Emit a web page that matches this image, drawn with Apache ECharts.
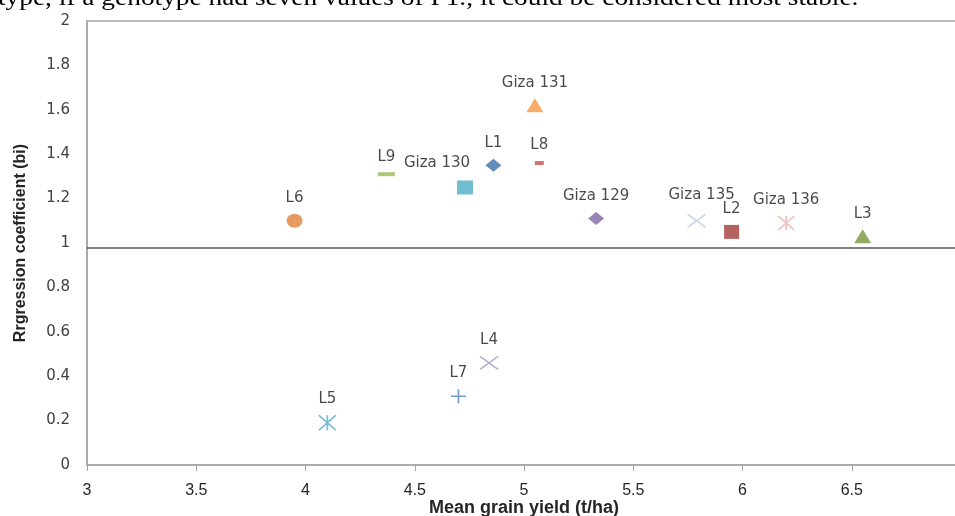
<!DOCTYPE html>
<html>
<head>
<meta charset="utf-8">
<script src="https://cdn.jsdelivr.net/npm/echarts@6/dist/echarts.min.js"></script>
<style>
html,body{margin:0;padding:0;background:#fff;overflow:hidden;}
#c{width:955px;height:516px;}
</style>
</head>
<body>
<div id="c"></div>
<script>
// Data
var genotypes = ['L6','L9','Giza 130','L1','L8','Giza 131','Giza 129','Giza 135','L2','Giza 136','L3','L4','L7','L5'];
var meanYield = [3.95, 4.37, 4.73, 4.86, 5.07, 5.05, 5.33, 5.79, 5.95, 6.20, 6.55, 4.84, 4.70, 4.10];
var regCoef   = [1.10, 1.31, 1.25, 1.35, 1.36, 1.62, 1.11, 1.10, 1.05, 1.09, 1.03, 0.46, 0.31, 0.19];
var meanLineY = 0.98;
var xTicks = [3, 3.5, 4, 4.5, 5, 5.5, 6, 6.5, 7];
var yTicks = [0, 0.2, 0.4, 0.6, 0.8, 1, 1.2, 1.4, 1.6, 1.8, 2];

// Styles (not data)
var X_PATH = 'path://M0,0L10,10M10,0L0,10';
var PLUS_PATH = 'path://M5,0L5,10M0,5L10,5';
var AST_PATH = 'path://M0,0L10,10M10,0L0,10M5,0L5,10';
var styles = {
  'L6':       {symbol:'circle', size:[16,14], color:'#E07F3A'},
  'L9':       {symbol:'rect', size:[17,4], color:'#9BBB59'},
  'Giza 130': {symbol:'rect', size:[16,14], color:'#4BACC6', offset:[-28,-2]},
  'L1':       {symbol:'diamond', size:[16,13], color:'#3F6FAA'},
  'L8':       {symbol:'rect', size:[9,4], color:'#C0504D'},
  'Giza 131': {symbol:'triangle', size:[17,14], color:'#F79646'},
  'Giza 129': {symbol:'diamond', size:[16,13], color:'#8064A2'},
  'Giza 135': {symbol:X_PATH, size:[18,13], color:'#B9CDE5', stroke:true, offset:[5,-3]},
  'L2':       {symbol:'rect', size:[15,14], color:'#A23B38'},
  'Giza 136': {symbol:AST_PATH, size:[16,14], color:'#E6B0AE', stroke:true},
  'L3':       {symbol:'triangle', size:[17,14], color:'#77963C'},
  'L4':       {symbol:X_PATH, size:[18,13], color:'#9C90C0', stroke:true},
  'L7':       {symbol:PLUS_PATH, size:[15,14], color:'#4F81BD', stroke:true},
  'L5':       {symbol:AST_PATH, size:[17,15], color:'#4BACC6', stroke:true}
};

var series = genotypes.map(function(name, i){
  var s = styles[name];
  var item = s.stroke ? {color:'rgba(0,0,0,0)', borderColor:s.color, borderWidth:1.6}
                      : {color:s.color};
  return {
    type:'scatter',
    name:name,
    data:[[meanYield[i], regCoef[i]]],
    symbol:s.symbol,
    symbolSize:s.size,
    itemStyle:item,
    label:{
      show:true, position:'top', distance:8,
      offset:s.offset || [0,0],
      formatter:name,
      fontFamily:'DejaVu Sans', fontSize:15, color:'#1a1a1a'
    },
    emphasis:{disabled:true},
    z:3
  };
});

series.push({
  type:'line', data:[], silent:true,
  markLine:{
    silent:true, symbol:['none','none'], label:{show:false},
    lineStyle:{color:'#555555', width:1.6, type:'solid'},
    data:[{yAxis:meanLineY}]
  }
});

var chart = echarts.init(document.getElementById('c'), null, {renderer:'canvas'});
chart.setOption({
  animation:false,
  backgroundColor:'#fff',
  grid:{left:87, width:874, top:21, height:444, show:true, borderColor:'#a6a6a6', borderWidth:1.5,
        containLabel:false, outerBoundsMode:'none'},
  graphic:[{
    type:'text', left:-2, top:-13, silent:true, scaleX:1.19,
    style:{text:'type, if a genotype had seven values of P1., it could be considered most stable.',
           font:'23px "Liberation Serif"', fill:'#000'}
  }],
  xAxis:{
    type:'value', min:xTicks[0], max:xTicks[xTicks.length-1], interval:0.5,
    splitLine:{show:false},
    axisLine:{show:true, onZero:false, lineStyle:{color:'#a6a6a6', width:1.5}},
    axisTick:{show:true, length:6, lineStyle:{color:'#a6a6a6'}},
    axisLabel:{margin:18, fontFamily:'Liberation Sans', fontSize:16, color:'#262626', showMaxLabel:true, hideOverlap:false},
    name:'Mean grain yield (t/ha)', nameLocation:'middle', nameGap:34, nameMoveOverlap:false,
    nameTextStyle:{fontFamily:'Liberation Sans', fontWeight:'bold', fontSize:18, color:'#262626'}
  },
  yAxis:{
    type:'value', min:yTicks[0], max:yTicks[yTicks.length-1], interval:0.2,
    splitLine:{show:false},
    axisLine:{show:true, lineStyle:{color:'#a6a6a6', width:1.5}},
    axisTick:{show:false},
    axisLabel:{margin:17, fontFamily:'DejaVu Sans', fontSize:15, color:'#404040'},
    name:'Rrgression coefficient (bi)', nameLocation:'middle', nameGap:58, nameMoveOverlap:false,
    nameTextStyle:{fontFamily:'Liberation Sans', fontWeight:'bold', fontSize:16, color:'#262626'}
  },
  series:series
});
</script>
</body>
</html>
